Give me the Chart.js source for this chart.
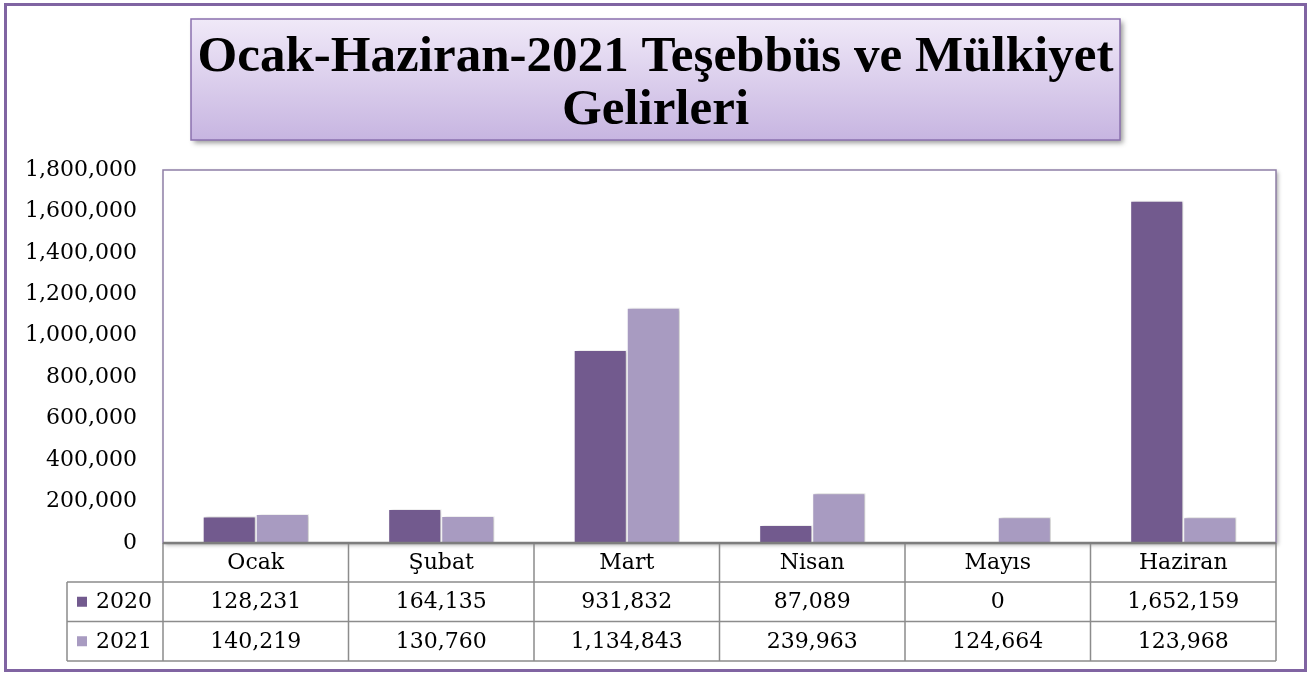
<!DOCTYPE html>
<html>
<head>
<meta charset="utf-8">
<script src="https://cdn.jsdelivr.net/npm/chart.js@4"></script>
<style>
  html, body { margin: 0; padding: 0; background: #fff; }
  #wrap { width: 1314px; height: 675px; position: relative; }
</style>
</head>
<body>
<div id="wrap"><canvas id="gelirChart"></canvas></div>
<script>
// chart data
const months = ["Ocak", "Şubat", "Mart", "Nisan", "Mayıs", "Haziran"];
const seriesNames = ["2020", "2021"];
const values2020 = [128231, 164135, 931832, 87089, 0, 1652159];
const values2021 = [140219, 130760, 1134843, 239963, 124664, 123968];
const yMax = 1800000;
const yStep = 200000;
const titleLines = ["Ocak-Haziran-2021 Teşebbüs ve Mülkiyet", "Gelirleri"];

const colors = ["#725a8e", "#a89bc1"];
const fmt = (v) => Number(v).toLocaleString("en-US");
const serif = "'DejaVu Serif', 'Liberation Serif', serif";

// frame, title box and plot box
const backdrop = {
  id: "backdrop",
  beforeDatasetsDraw(chart) {
    const { ctx, chartArea: a } = chart;
    ctx.save();
    // plot box with soft shadow
    ctx.shadowColor = "rgba(0,0,0,0.35)";
    ctx.shadowBlur = 4;
    ctx.shadowOffsetX = 2;
    ctx.shadowOffsetY = 2;
    ctx.fillStyle = "#fff";
    ctx.fillRect(a.left, a.top, a.right - a.left, a.bottom - a.top);
    ctx.shadowColor = "transparent";
    ctx.strokeStyle = "#8f7fa6";
    ctx.lineWidth = 1.5;
    ctx.strokeRect(a.left, a.top, a.right - a.left, a.bottom - a.top);
    ctx.restore();

    // bars get a light shadow
    ctx.save();
    ctx.shadowColor = "rgba(0,0,0,0.25)";
    ctx.shadowBlur = 3;
    ctx.shadowOffsetX = 2;
    ctx.shadowOffsetY = 0;
  },
  afterDatasetsDraw(chart) {
    chart.ctx.restore();
  },
  afterDraw(chart) {
    const { ctx } = chart;
    ctx.save();
    // outer frame
    ctx.strokeStyle = "#8064a2";
    ctx.lineWidth = 3;
    ctx.strokeRect(5.5, 4.5, 1300, 666);

    // title box
    const bx = 191, by = 19, bw = 929, bh = 121;
    ctx.shadowColor = "rgba(0,0,0,0.4)";
    ctx.shadowBlur = 5;
    ctx.shadowOffsetX = 3;
    ctx.shadowOffsetY = 3;
    const g = ctx.createLinearGradient(0, by, 0, by + bh);
    g.addColorStop(0, "#f0e9f8");
    g.addColorStop(1, "#c7b5e1");
    ctx.fillStyle = g;
    ctx.fillRect(bx, by, bw, bh);
    ctx.shadowColor = "transparent";
    ctx.strokeStyle = "#8a70ae";
    ctx.lineWidth = 1.5;
    ctx.strokeRect(bx, by, bw, bh);

    // title text, fitted to the reference width
    ctx.fillStyle = "#000";
    ctx.font = "bold 50px 'Liberation Serif', serif";
    ctx.textAlign = "center";
    ctx.textBaseline = "alphabetic";
    const cx = bx + bw / 2;
    const w0 = ctx.measureText(titleLines[0]).width;
    const sx = 916 / w0;
    ctx.save();
    ctx.translate(cx, 0);
    ctx.scale(sx, 1);
    ctx.fillText(titleLines[0], 0, 71);
    ctx.fillText(titleLines[1], 0, 124);
    ctx.restore();

    // data table under the plot
    const x = chart.scales.x;
    const a = chart.chartArea;
    const colW = (a.right - a.left) / months.length;
    const rows = [a.bottom, 582, 621.5, 661];
    const legLeft = 67;
    ctx.strokeStyle = "#8c8c8c";
    ctx.lineWidth = 1.5;
    ctx.beginPath();
    ctx.moveTo(legLeft, rows[1]); ctx.lineTo(a.right, rows[1]);
    ctx.moveTo(legLeft, rows[2]); ctx.lineTo(a.right, rows[2]);
    ctx.moveTo(legLeft, rows[3]); ctx.lineTo(a.right, rows[3]);
    for (let i = 0; i <= months.length; i++) {
      const px = a.left + i * colW;
      ctx.moveTo(px, rows[0]); ctx.lineTo(px, rows[3]);
    }
    ctx.moveTo(legLeft, rows[1]); ctx.lineTo(legLeft, rows[3]);
    ctx.stroke();

    // axis line
    ctx.strokeStyle = "#7d7d7d";
    ctx.lineWidth = 2.5;
    ctx.beginPath();
    ctx.moveTo(a.left, a.bottom); ctx.lineTo(a.right, a.bottom);
    ctx.stroke();

    ctx.fillStyle = "#000";
    ctx.font = "22px " + serif;
    ctx.textAlign = "center";
    ctx.textBaseline = "middle";
    const allVals = [values2020, values2021];
    months.forEach((m, i) => {
      const px = x.getPixelForValue(i);
      ctx.fillText(m, px, (rows[0] + rows[1]) / 2 + 1);
      ctx.fillText(fmt(allVals[0][i]), px, (rows[1] + rows[2]) / 2 + 1);
      ctx.fillText(fmt(allVals[1][i]), px, (rows[2] + rows[3]) / 2 + 1);
    });

    // legend keys
    ctx.textAlign = "left";
    seriesNames.forEach((s, k) => {
      const cy = (rows[k + 1] + rows[k + 2]) / 2;
      ctx.fillStyle = colors[k];
      ctx.fillRect(77, cy - 5, 10, 10);
      ctx.fillStyle = "#000";
      ctx.fillText(s, 96, cy + 1);
    });
    ctx.restore();
  }
};

new Chart(document.getElementById("gelirChart"), {
  type: "bar",
  data: {
    labels: months,
    datasets: [
      { label: seriesNames[0], data: values2020, backgroundColor: colors[0] },
      { label: seriesNames[1], data: values2021, backgroundColor: colors[1] }
    ].map((d) => ({
      ...d,
      borderColor: "#ffffff",
      borderWidth: 1,
      categoryPercentage: 0.572,
      barPercentage: 1
    }))
  },
  options: {
    responsive: true,
    maintainAspectRatio: false,
    animation: false,
    layout: { padding: { top: 170, right: 38, bottom: 132, left: 0 } },
    scales: {
      x: { display: false },
      y: {
        min: 0,
        max: yMax,
        grid: { display: false, drawTicks: false },
        border: { display: false },
        afterFit(scale) { scale.width = 163; },
        ticks: {
          stepSize: yStep,
          padding: 26,
          color: "#000",
          font: { family: serif, size: 22 },
          callback: (v) => fmt(v)
        }
      }
    },
    plugins: {
      legend: { display: false },
      tooltip: { enabled: false }
    }
  },
  plugins: [backdrop]
});
</script>
</body>
</html>
